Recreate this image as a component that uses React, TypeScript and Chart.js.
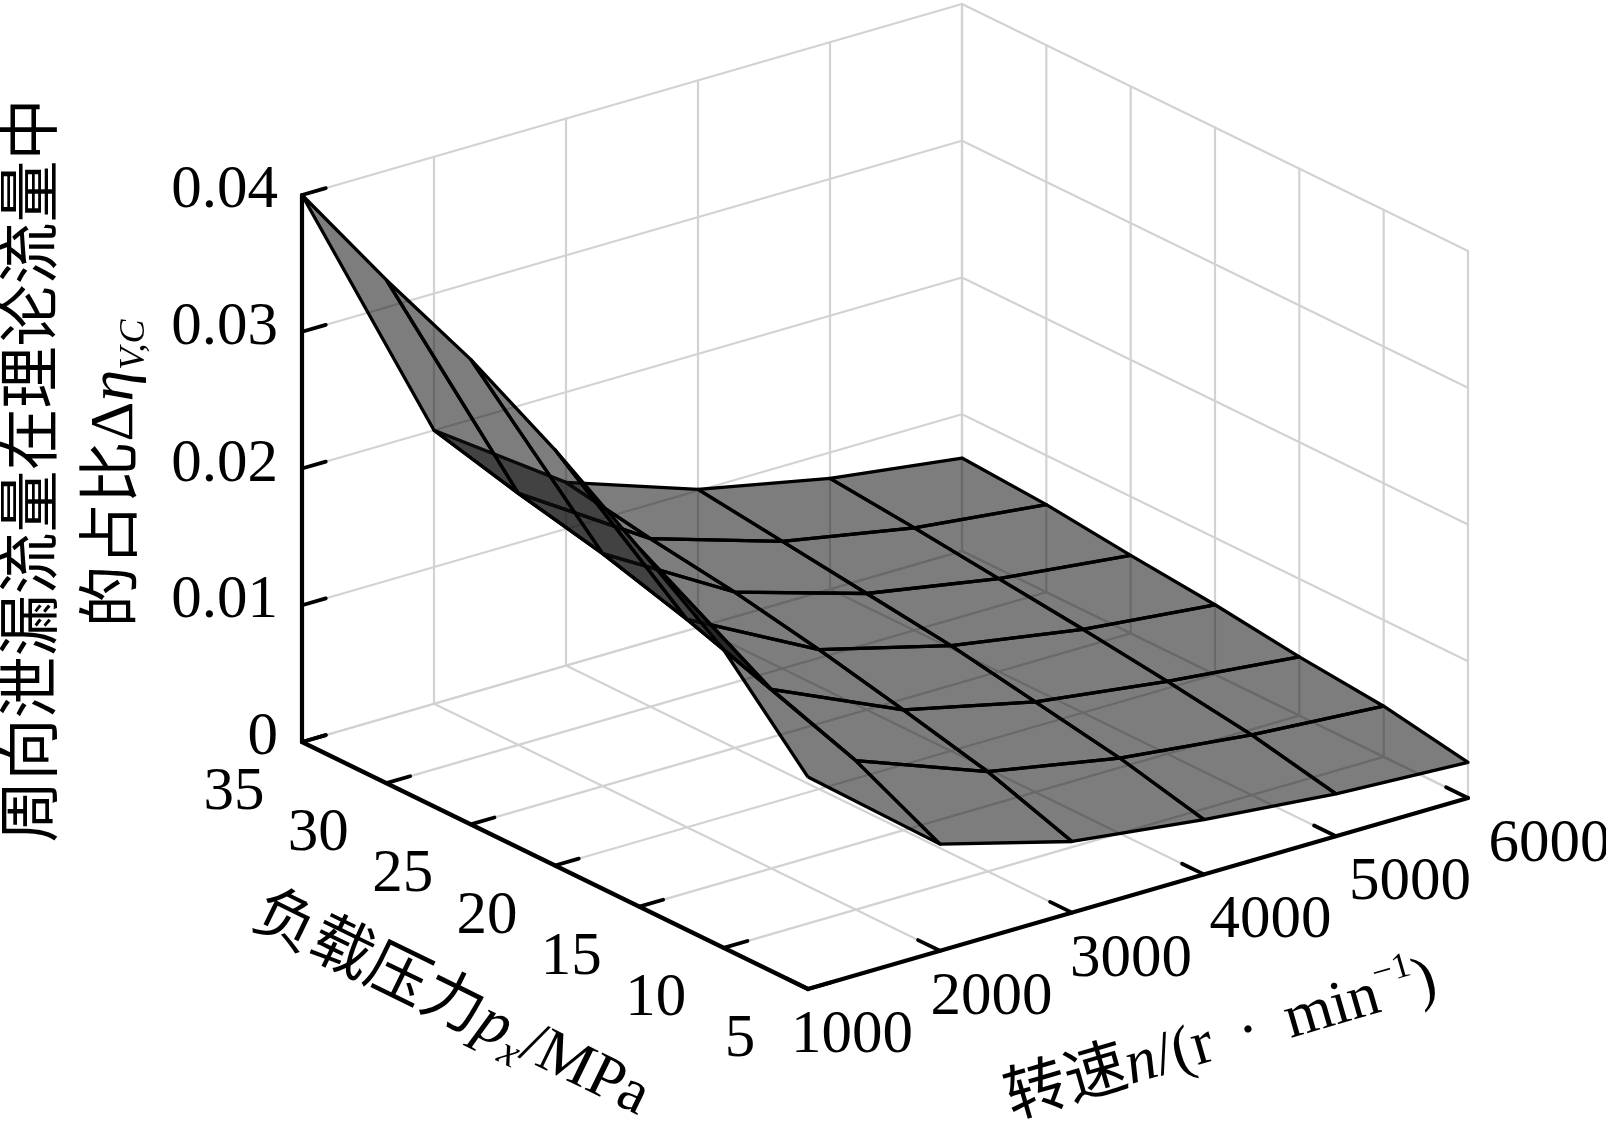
import React, { useRef, useEffect } from 'react'
import Chart from 'chart.js/auto'

// grid of the surface
const P_VALUES = [5, 10, 15, 20, 25, 30, 35] // load pressure, MPa
const N_VALUES = [1000, 2000, 3000, 4000, 5000, 6000] // speed, r/min

// share of circumferential leakage, one row per pressure (columns follow N_VALUES)
const ETA_P5 = [0.0155, 0.0078, 0.0052, 0.004, 0.0031, 0.0026]
const ETA_P10 = [0.0218, 0.0109, 0.0073, 0.0055, 0.0044, 0.0037]
const ETA_P15 = [0.0262, 0.0131, 0.0088, 0.0066, 0.0053, 0.0043]
const ETA_P20 = [0.0304, 0.0152, 0.0102, 0.0077, 0.0061, 0.0051]
const ETA_P25 = [0.034, 0.017, 0.0114, 0.0085, 0.0068, 0.0057]
const ETA_P30 = [0.0368, 0.0184, 0.0123, 0.0093, 0.0075, 0.0064]
const ETA_P35 = [0.04, 0.02, 0.0134, 0.0101, 0.0081, 0.0068]
const ETA_ROWS = [ETA_P5, ETA_P10, ETA_P15, ETA_P20, ETA_P25, ETA_P30, ETA_P35]

const Z_TICKS = [0, 0.01, 0.02, 0.03, 0.04]
const Z_TICK_LABELS = ['0', '0.01', '0.02', '0.03', '0.04']
const P_TICKS = [5, 10, 15, 20, 25, 30, 35]
const N_TICKS = [1000, 2000, 3000, 4000, 5000, 6000]

const W = 1606
const H = 1121

// axis box placement (screen units of the hidden linear scales)
const P_RANGE = [5, 35]
const N_RANGE = [1000, 6000]
const Z_RANGE = [0, 0.04]
const ORIGIN = { x: 302, y: 742 } // p = 35, n = 1000, z = 0
const P_VEC = { x: 506, y: 247 } // p 35 -> 5
const N_VEC = { x: 660, y: -191 } // n 1000 -> 6000
const Z_VEC = { x: 0, y: -547 } // z 0 -> 0.04
const DEPTH = { u: 609, v: -471, w: 222 } // bigger = nearer the viewer

const norm = (p: number, n: number, z: number) => ({
  u: (P_RANGE[1] - p) / (P_RANGE[1] - P_RANGE[0]),
  v: (n - N_RANGE[0]) / (N_RANGE[1] - N_RANGE[0]),
  w: (z - Z_RANGE[0]) / (Z_RANGE[1] - Z_RANGE[0]),
})

const proj = (p: number, n: number, z: number) => {
  const { u, v, w } = norm(p, n, z)
  return {
    x: ORIGIN.x + u * P_VEC.x + v * N_VEC.x + w * Z_VEC.x,
    y: ORIGIN.y + u * P_VEC.y + v * N_VEC.y + w * Z_VEC.y,
  }
}

const depth = (p: number, n: number, z: number) => {
  const { u, v, w } = norm(p, n, z)
  return DEPTH.u * u + DEPTH.v * v + DEPTH.w * w
}

const GRID = '#d2d2d2'
const SURFACE_FILL = 'rgba(18,18,18,0.55)'
const SERIF = '"Liberation Serif", "Times New Roman", serif'
const CJK = '"Noto Sans CJK SC", "Noto Sans CJK JP", sans-serif'

const seg = (pts: { x: number; y: number }[], color: string, width: number) => ({
  data: pts,
  borderColor: color,
  borderWidth: width,
  pointRadius: 0,
  fill: false,
  tension: 0,
  borderCapStyle: 'round',
})

function buildDatasets() {
  const grid: any[] = []
  // back wall p = 35
  N_TICKS.slice(1).forEach((n) => grid.push(seg([proj(35, n, 0), proj(35, n, 0.04)], GRID, 2.2)))
  Z_TICKS.forEach((z) => grid.push(seg([proj(35, 1000, z), proj(35, 6000, z)], GRID, 2.2)))
  // back wall n = 6000
  P_TICKS.forEach((p) => grid.push(seg([proj(p, 6000, 0), proj(p, 6000, 0.04)], GRID, 2.2)))
  Z_TICKS.forEach((z) => grid.push(seg([proj(35, 6000, z), proj(5, 6000, z)], GRID, 2.2)))
  // floor
  N_TICKS.slice(1).forEach((n) => grid.push(seg([proj(5, n, 0), proj(35, n, 0)], GRID, 2.2)))
  P_TICKS.slice(1).forEach((p) => grid.push(seg([proj(p, 1000, 0), proj(p, 6000, 0)], GRID, 2.2)))

  const quads: { d: number; ds: any }[] = []
  for (let i = 0; i < P_VALUES.length - 1; i++) {
    for (let j = 0; j < N_VALUES.length - 1; j++) {
      const corners = [
        [P_VALUES[i], N_VALUES[j], ETA_ROWS[i][j]],
        [P_VALUES[i], N_VALUES[j + 1], ETA_ROWS[i][j + 1]],
        [P_VALUES[i + 1], N_VALUES[j + 1], ETA_ROWS[i + 1][j + 1]],
        [P_VALUES[i + 1], N_VALUES[j], ETA_ROWS[i + 1][j]],
      ]
      const pts = corners.map(([p, n, z]) => proj(p, n, z))
      pts.push(pts[0])
      const d = corners.reduce((s, [p, n, z]) => s + depth(p, n, z), 0) / 4
      quads.push({
        d,
        ds: {
          data: pts,
          borderColor: '#000',
          borderWidth: 3.3,
          borderJoinStyle: 'round',
          backgroundColor: SURFACE_FILL,
          fill: 'shape',
          pointRadius: 0,
          tension: 0,
        },
      })
    }
  }
  quads.sort((a, b) => a.d - b.d) // far first

  const axes: any[] = []
  axes.push(seg([proj(35, 1000, 0), proj(35, 1000, 0.04)], '#000', 4.2))
  axes.push(seg([proj(35, 1000, 0), proj(5, 1000, 0)], '#000', 4.2))
  axes.push(seg([proj(5, 1000, 0), proj(5, 6000, 0)], '#000', 4.2))
  Z_TICKS.forEach((z) => axes.push(seg([proj(35, 1000, z), proj(35, 1180, z)], '#000', 3.8)))
  P_TICKS.forEach((p) => axes.push(seg([proj(p, 1000, 0), proj(p, 1180, 0)], '#000', 3.8)))
  N_TICKS.forEach((n) => axes.push(seg([proj(5, n, 0), proj(6.3, n, 0)], '#000', 3.8)))

  // chart.js paints dataset 0 last, so reverse the back-to-front list
  return [...grid, ...quads.map((q) => q.ds), ...axes].reverse()
}

type Run = { text: string; font: string; dy?: number }

function drawRuns(ctx: CanvasRenderingContext2D, runs: Run[], cx: number, cy: number, angle: number, align = 'center', base = 21) {
  ctx.save()
  ctx.translate(cx, cy)
  ctx.rotate(angle)
  ctx.textBaseline = 'alphabetic'
  ctx.textAlign = 'left'
  ctx.fillStyle = '#000'
  const widths = runs.map((r) => {
    ctx.font = r.font
    return ctx.measureText(r.text).width
  })
  const total = widths.reduce((a, b) => a + b, 0)
  let x0 = align === 'center' ? -total / 2 : align === 'right' ? -total : 0
  runs.forEach((r, i) => {
    ctx.font = r.font
    ctx.fillText(r.text, x0, base + (r.dy || 0))
    x0 += widths[i]
  })
  ctx.restore()
}

const axisText = {
  id: 'axisText',
  afterDraw(chart: any) {
    const { ctx } = chart
    const xs = chart.scales.x
    const ys = chart.scales.y
    const px = (pt: { x: number; y: number }, dx = 0, dy = 0) => ({
      x: xs.getPixelForValue(pt.x + dx),
      y: ys.getPixelForValue(pt.y + dy),
    })
    const tickFont = `61px ${SERIF}`

    Z_TICKS.forEach((z, i) => {
      const c = px(proj(35, 1000, z), -24, -9)
      drawRuns(ctx, [{ text: Z_TICK_LABELS[i], font: tickFont }], c.x, c.y, 0, 'right', 21)
    })
    P_TICKS.forEach((p) => {
      const c = px(proj(p, 1000, 0), -68, 46)
      drawRuns(ctx, [{ text: String(p), font: tickFont }], c.x, c.y, 0, 'center', 21)
    })
    N_TICKS.forEach((n, k) => {
      const c = px(proj(5, n, 0), 44 + 7.5 * k, 42)
      drawRuns(ctx, [{ text: String(n), font: tickFont }], c.x, c.y, 0, 'center', 21)
    })

    // z title, two rotated lines
    const zMid = px(proj(35, 1000, 0.02))
    drawRuns(ctx, [{ text: '周向泄漏流量在理论流量中', font: `62px ${CJK}` }], px({ x: 31, y: 0 }).x, zMid.y + 2, -Math.PI / 2)
    drawRuns(
      ctx,
      [
        { text: '的占比', font: `62px ${CJK}` },
        { text: 'Δ', font: `62px ${SERIF}` },
        { text: 'η', font: `italic 64px ${SERIF}` },
        { text: 'V,C', font: `italic 36px ${SERIF}`, dy: 12 },
      ],
      px({ x: 111, y: 0 }).x,
      zMid.y + 5,
      -Math.PI / 2
    )

    // p title along the p axis
    const pa = px(proj(35, 1000, 0))
    const pb = px(proj(5, 1000, 0))
    const pAng = Math.atan2(pb.y - pa.y, pb.x - pa.x)
    const pMid = px(proj(20, 1000, 0), -102, 136)
    drawRuns(
      ctx,
      [
        { text: '负载压力', font: `62px ${CJK}` },
        { text: 'p', font: `italic 64px ${SERIF}` },
        { text: 'x', font: `italic 42px ${SERIF}`, dy: 13 },
        { text: '/MPa', font: `62px ${SERIF}` },
      ],
      pMid.x,
      pMid.y,
      pAng
    )

    // n title along the n axis
    const na = px(proj(5, 1000, 0))
    const nb = px(proj(5, 6000, 0))
    const nAng = Math.atan2(nb.y - na.y, nb.x - na.x)
    const nMid = px(proj(5, 3500, 0), 82, 143)
    drawRuns(
      ctx,
      [
        { text: '转速', font: `62px ${CJK}` },
        { text: 'n', font: `italic 62px ${SERIF}` },
        { text: '/(r \u2009·\u2009 min', font: `62px ${SERIF}` },
        { text: '−1', font: `36px ${SERIF}`, dy: -27 },
        { text: ')', font: `62px ${SERIF}` },
      ],
      nMid.x,
      nMid.y,
      nAng
    )
  },
}

const App: React.FC = () => {
  const canvasRef = useRef<HTMLCanvasElement>(null)

  useEffect(() => {
    if (!canvasRef.current) return
    const ctx = canvasRef.current.getContext('2d')
    if (!ctx) return

    const chart = new Chart(ctx, {
      type: 'line',
      data: { datasets: buildDatasets() as any },
      options: {
        animation: false,
        responsive: true,
        maintainAspectRatio: false,
        events: [],
        layout: { padding: 0 },
        scales: {
          x: { type: 'linear', min: 0, max: W, display: false },
          y: { type: 'linear', min: 0, max: H, reverse: true, display: false },
        },
        plugins: {
          legend: { display: false },
          tooltip: { enabled: false },
        },
      },
      plugins: [axisText],
    })

    return () => chart.destroy()
  }, [])

  return (
    <div style={{ position: 'fixed', left: 0, top: 0, width: W, height: H, background: '#fff' }}>
      <canvas ref={canvasRef} />
    </div>
  )
}

export default App
